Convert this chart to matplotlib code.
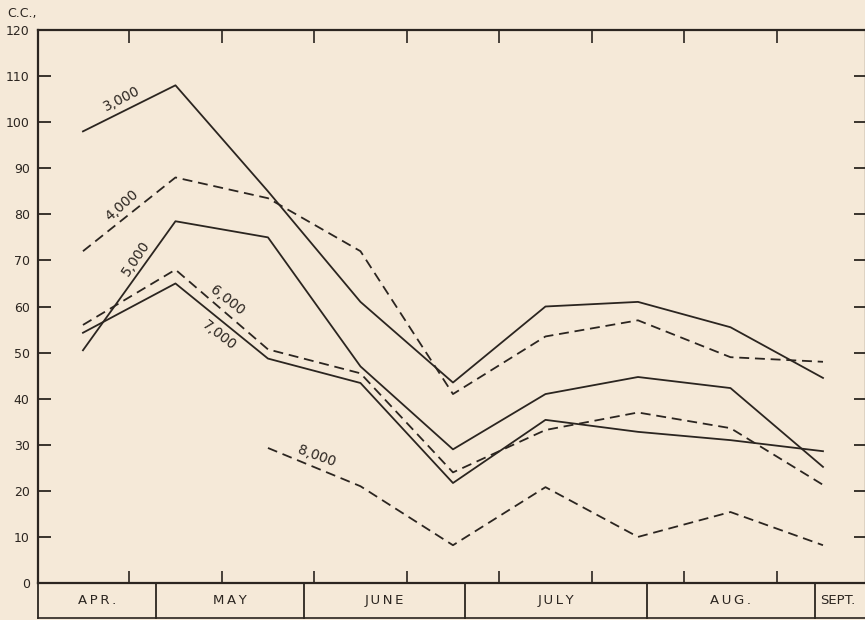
import matplotlib
matplotlib.use('Agg')
import numpy as np
import matplotlib.pyplot as plt
import matplotlib.transforms as mtransforms

# readings are taken at the middle of each 10-day period, index 0..8
periods = list(range(9))
cc_3000 = [98, 108, 85, 61, 43.5, 60, 61, 55.5, 44.5]
cc_4000 = [72, 88, 83.5, 72, 41, 53.5, 57, 49, 48]
cc_5000 = [50.5, 78.5, 75, 47, 29, 41, 44.7, 42.3, 25.2]
cc_6000 = [56, 68, 50.7, 45.5, 24, 33.2, 37, 33.6, 21.3]
cc_7000 = [54.3, 65, 48.7, 43.4, 21.7, 35.4, 32.8, 31, 28.6]
cc_8000 = [np.nan, np.nan, 29.3, 21, 8.2, 20.8, 10, 15.4, 8.2]

months = ['APR.', 'MAY', 'JUNE', 'JULY', 'AUG.', 'SEPT.']
month_edges = [-0.486, 0.789, 2.389, 4.13, 6.097, 7.914, 8.465]
yticks = list(range(0, 130, 10))

bg = '#f5e9d8'
ink = '#2b2520'

plt.rcParams['font.family'] = ['DejaVu Sans']

fig = plt.figure(figsize=(8.65, 6.2), dpi=100, facecolor=bg)
ax = fig.add_axes([38/865, 1-583/620, (866-38)/865, (583-30)/620])
ax.set_facecolor(bg)

dash = (0, (5.5, 3.2))
series = [
	(cc_3000, '-'), (cc_4000, dash), (cc_5000, '-'),
	(cc_6000, dash), (cc_7000, '-'), (cc_8000, dash),
]
for vals, ls in series:
	ax.plot(periods, vals, color=ink, lw=1.3, linestyle=ls)

# curve labels
labels = [
	('3,000', 0.42, 105, 27),
	('4,000', 0.42, 82, 42),
	('5,000', 0.57, 70.5, 56),
	('6,000', 1.56, 61.4, -38),
	('7,000', 1.47, 53.8, -38),
	('8,000', 2.53, 27.5, -20),
]
for txt, x, y, rot in labels:
	ax.text(x, y, txt, rotation=rot, ha='center', va='center',
		fontsize=10, color=ink, rotation_mode='anchor')

ax.set_xlim(month_edges[0], month_edges[-1])
ax.set_ylim(0, 120)
ax.set_yticks(yticks)
ax.set_yticklabels([str(v) for v in yticks], fontsize=9, color=ink)
ax.set_xticks(np.arange(0.5, 8, 1.0))
ax.set_xticklabels([])
ax.tick_params(axis='y', direction='in', length=9, width=1.3, color=ink,
	right=True, pad=6)
ax.tick_params(axis='x', direction='in', length=9, width=1.2, color=ink,
	top=True)
for s in ax.spines.values():
	s.set_color(ink)
	s.set_linewidth(1.6)

fig.text(7/865, 1-13/620, 'C.C.,', fontsize=9, color=ink,
	ha='left', va='center')

# month boxes under the axis
trans = mtransforms.blended_transform_factory(ax.transData, ax.transAxes)
box_bottom = -(618-583)/553
ax.plot([month_edges[0], month_edges[-1]], [box_bottom, box_bottom],
	transform=trans, color=ink, lw=1.2, clip_on=False)
for e in month_edges[:-1]:
	ax.plot([e, e], [0, box_bottom], transform=trans, color=ink,
		lw=1.3, clip_on=False)
for i, m in enumerate(months):
	lo, hi = month_edges[i], month_edges[i+1]
	xc = (lo + hi) / 2
	label = '\u2009'.join(m)
	if m == 'SEPT.':
		xc = lo + 0.25
		label = m
	ax.text(xc, box_bottom/2, label, transform=trans,
		ha='center', va='center', fontsize=9.5, color=ink, clip_on=False)

fig.savefig('out.png', dpi=100, facecolor=bg)
